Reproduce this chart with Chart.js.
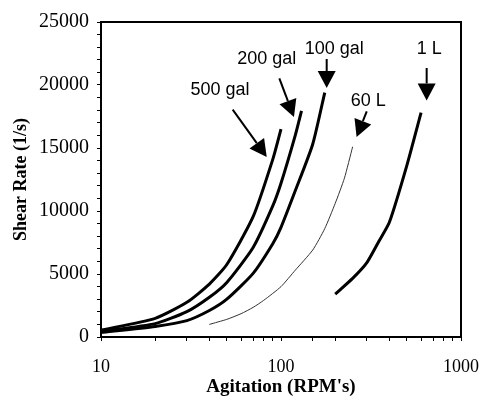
<!DOCTYPE html>
<html><head><meta charset="utf-8">
<script src="https://cdn.jsdelivr.net/npm/chart.js@4/dist/chart.umd.min.js"></script>
<style>html,body{margin:0;padding:0;background:#fff;}#wrap{width:482px;height:407px;}</style>
</head><body><div id="wrap"><canvas id="c" width="482" height="407"></canvas></div>
<script>
// ---- data ----
const rpm500 = [10, 20, 30, 40, 50, 70, 90, 100];
const shear500 = [550, 1480, 2750, 4200, 5750, 9550, 14100, 16500];
const rpm200 = [10, 20, 30, 40, 50, 70, 90, 100, 120, 130];
const shear200 = [450, 1060, 2010, 3150, 4330, 7100, 10400, 12200, 16000, 17950];
const rpm100 = [10, 20, 30, 40, 50, 70, 90, 100, 120, 150, 175];
const shear100 = [350, 840, 1300, 2100, 3000, 5050, 7400, 8700, 11600, 15300, 19400];
const rpm60L = [40, 50, 60, 70, 80, 100, 120, 150, 175, 200, 225, 250];
const shear60L = [1000, 1400, 1850, 2350, 2900, 4000, 5300, 6900, 8600, 10600, 12600, 15100];
const rpm1L = [200, 250, 300, 350, 400, 500, 600];
const shear1L = [3400, 4650, 5900, 7600, 9100, 13600, 17800];

const xTickLabels = [10, 100, 1000];
const yTickLabels = [0, 5000, 10000, 15000, 20000, 25000];

// annotation labels and arrows (data coordinates)
const noteText = ['500 gal', '200 gal', '100 gal', '60 L', '1 L'];
const noteX = [45.8, 83.3, 197.7, 305.5, 666.7];
const noteY = [19570, 22063, 22857, 18698, 22857];
const arrowFromX = [53.9, 97.9, 179.4, 299.5, 644.5];
const arrowFromY = [18040, 20524, 22063, 17905, 21349];
const arrowToX = [83.3, 118, 179.4, 263, 644.5];
const arrowToY = [14286, 17460, 19762, 15873, 18778];

function pts(xs, ys) { return xs.map((x, i) => ({x: x, y: ys[i]})); }

const framePlugin = {
  id: 'frame',
  afterDraw(chart) {
    const ctx = chart.ctx, a = chart.chartArea;
    ctx.save();
    ctx.strokeStyle = '#000';
    ctx.lineWidth = 2;
    ctx.strokeRect(a.left, a.top, a.right - a.left, a.bottom - a.top);
    ctx.restore();
  }
};

const notePlugin = {
  id: 'notes',
  afterDatasetsDraw(chart) {
    const ctx = chart.ctx, xs = chart.scales.x, ys = chart.scales.y;
    ctx.save();
    ctx.fillStyle = '#000';
    ctx.strokeStyle = '#000';
    ctx.font = '18px "Liberation Sans", Arial, sans-serif';
    ctx.textAlign = 'center';
    ctx.textBaseline = 'middle';
    for (let i = 0; i < noteText.length; i++) {
      ctx.fillText(noteText[i], xs.getPixelForValue(noteX[i]), ys.getPixelForValue(noteY[i]));
      const x0 = xs.getPixelForValue(arrowFromX[i]), y0 = ys.getPixelForValue(arrowFromY[i]);
      const x1 = xs.getPixelForValue(arrowToX[i]), y1 = ys.getPixelForValue(arrowToY[i]);
      const ang = Math.atan2(y1 - y0, x1 - x0);
      const headLen = 17, headHalf = 9;
      const bx = x1 - headLen * Math.cos(ang), by = y1 - headLen * Math.sin(ang);
      ctx.lineWidth = 2;
      ctx.beginPath(); ctx.moveTo(x0, y0); ctx.lineTo(bx, by); ctx.stroke();
      ctx.beginPath();
      ctx.moveTo(x1, y1);
      ctx.lineTo(bx + headHalf * Math.sin(ang), by - headHalf * Math.cos(ang));
      ctx.lineTo(bx - headHalf * Math.sin(ang), by + headHalf * Math.cos(ang));
      ctx.closePath(); ctx.fill();
    }
    ctx.restore();
  }
};

const thick = {borderColor: '#000', borderWidth: 3, pointRadius: 0, tension: 0.2, fill: false};
new Chart(document.getElementById('c'), {
  type: 'line',
  data: {
    datasets: [
      Object.assign({label: '500 gal', data: pts(rpm500, shear500)}, thick),
      Object.assign({label: '200 gal', data: pts(rpm200, shear200)}, thick),
      Object.assign({label: '100 gal', data: pts(rpm100, shear100)}, thick),
      {label: '60 L', data: pts(rpm60L, shear60L), borderColor: '#333', borderWidth: 1, pointRadius: 0, tension: 0.2, fill: false},
      Object.assign({label: '1 L', data: pts(rpm1L, shear1L)}, thick)
    ]
  },
  options: {
    responsive: false,
    animation: false,
    layout: {padding: {top: 22, right: 21, left: 0, bottom: 0}},
    plugins: {legend: {display: false}, tooltip: {enabled: false}},
    scales: {
      x: {
        type: 'logarithmic', min: 10, max: 1000,
        afterFit(s) { s.height = 70; s.paddingLeft = 0; s.paddingRight = 0; },
        grid: {drawOnChartArea: false, tickLength: 4, color: '#000', tickColor: '#000'},
        border: {display: false},
        ticks: {
          autoSkip: false, maxRotation: 0, color: '#000', padding: 15,
          font: {family: '"Liberation Serif", "Times New Roman", serif', size: 18},
          callback: (v) => xTickLabels.includes(v) ? String(v) : ''
        },
        title: {display: true, text: "Agitation (RPM's)", color: '#000', padding: {top: 0, bottom: 9},
          font: {family: '"Liberation Serif", "Times New Roman", serif', size: 19, weight: 'bold'}}
      },
      y: {
        min: 0, max: 25000,
        afterFit(s) { s.width = 101; s.paddingTop = 0; s.paddingBottom = 0; },
        grid: {drawOnChartArea: false, tickLength: 4, color: '#000', tickColor: '#000'},
        border: {display: false},
        ticks: {
          stepSize: 1000, autoSkip: false, color: '#000', padding: 8,
          font: {family: '"Liberation Serif", "Times New Roman", serif', size: 20},
          callback: (v) => yTickLabels.includes(v) ? String(v) : ''
        },
        title: {display: true, text: 'Shear Rate (1/s)', color: '#000', padding: {top: 11, bottom: 0},
          font: {family: '"Liberation Serif", "Times New Roman", serif', size: 18, weight: 'bold'}}
      }
    }
  },
  plugins: [notePlugin, framePlugin]
});
</script></body></html>
